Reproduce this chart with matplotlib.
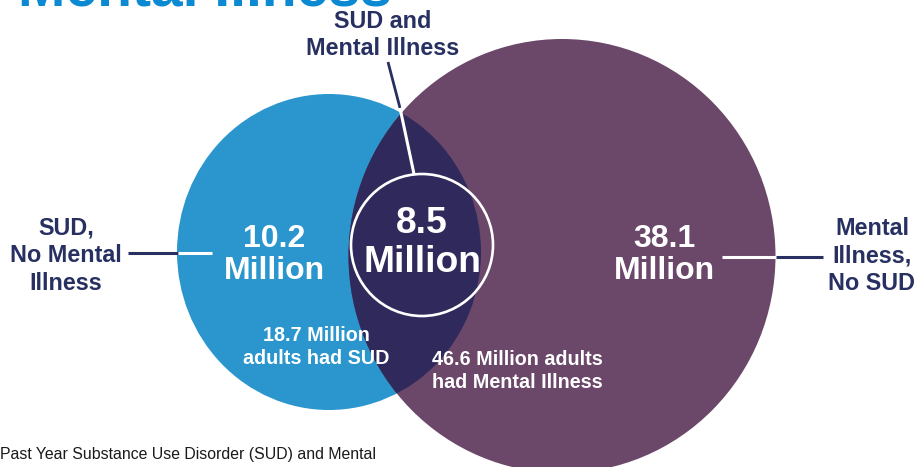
import matplotlib
matplotlib.use("Agg")
import matplotlib.pyplot as plt
from matplotlib.patches import Ellipse, Circle

# ---- data ----
segment_values = [10.2, 8.5, 38.1]          # SUD only, both, mental illness only (millions)
segment_names = ["SUD,\nNo Mental\nIllness", "SUD and\nMental Illness", "Mental\nIllness,\nNo SUD"]
total_values = [18.7, 46.6]
total_labels = ["adults had SUD", "adults had Mental Illness"]
title_text = "Mental Illness"
footer_text = "Past Year Substance Use Disorder (SUD) and Mental"

# ---- colours ----
BLUE = "#2b96cd"
PURPLE = "#6b4769"
DARK = "#30295c"
NAVY = "#273061"
TITLE_BLUE = "#0b8ad3"
FONT = "Liberation Sans"

fig = plt.figure(figsize=(9.2, 4.67), dpi=100)
ax = fig.add_axes([0, 0, 1, 1])
ax.set_xlim(0, 920)
ax.set_ylim(467, 0)
ax.axis("off")

blue = Ellipse((329, 252), 304, 316, facecolor=BLUE, edgecolor="none", zorder=1)
purple = Ellipse((562, 256), 427, 434, facecolor=PURPLE, edgecolor="none", zorder=2)
ax.add_patch(blue)
ax.add_patch(purple)
inter = Ellipse((562, 256), 427, 434, facecolor=DARK, edgecolor="none", zorder=3)
ax.add_patch(inter)
inter.set_clip_path(blue)

# inner circle
ax.add_patch(Circle((422, 245), 71, facecolor="none", edgecolor="white", lw=1.9, zorder=5))

# leader lines
ax.plot([388, 400], [62, 108], color=NAVY, lw=2.0, zorder=4, solid_capstyle="butt")
ax.plot([400, 414], [108, 174], color="white", lw=2.2, zorder=4, solid_capstyle="butt")
ax.plot([128, 178], [253, 253], color=NAVY, lw=2.2, zorder=4, solid_capstyle="butt")
ax.plot([178, 212], [253, 253], color="white", lw=2.2, zorder=4, solid_capstyle="butt")
ax.plot([722, 776], [257, 257], color="white", lw=2.2, zorder=4, solid_capstyle="butt")
ax.plot([776, 823], [257, 257], color=NAVY, lw=2.2, zorder=4, solid_capstyle="butt")

# title (cut off at top, as in the source) and footer
ax.text(18, 5, title_text, color=TITLE_BLUE, fontsize=41, fontweight="bold",
        family=FONT, ha="left", va="baseline", zorder=6)
ax.text(0, 454, footer_text, color="#1a1a1a", fontsize=11.4, family=FONT,
        ha="left", va="center", zorder=6)

# category names
ax.text(66, 256, segment_names[0], color=NAVY, fontsize=16.8, fontweight="bold", family=FONT,
        ha="center", va="center", linespacing=1.26, zorder=6)
ax.text(383, 35, segment_names[1], color=NAVY, fontsize=16.8, fontweight="bold", family=FONT,
        ha="center", va="center", linespacing=1.26, zorder=6)
ax.text(872, 256, segment_names[2], color=NAVY, fontsize=16.8, fontweight="bold", family=FONT,
        ha="center", va="center", linespacing=1.26, zorder=6)

# segment values
ax.text(274, 255, f"{segment_values[0]}\nMillion", color="white", fontsize=23, fontweight="bold",
        family=FONT, ha="center", va="center", linespacing=1.1, zorder=6)
ax.text(422, 243, f"{segment_values[1]}\nMillion", color="white", fontsize=26.8, fontweight="bold",
        family=FONT, ha="center", va="center", linespacing=1.12, zorder=6)
ax.text(664, 255, f"{segment_values[2]}\nMillion", color="white", fontsize=23, fontweight="bold",
        family=FONT, ha="center", va="center", linespacing=1.1, zorder=6)

# totals
ax.text(316, 347, f"{total_values[0]} Million\n{total_labels[0]}", color="white", fontsize=14.2,
        fontweight="bold", family=FONT, ha="center", va="center", linespacing=1.25, zorder=6)
ax.text(517, 371, f"{total_values[1]} Million adults\nhad Mental Illness", color="white", fontsize=14.2,
        fontweight="bold", family=FONT, ha="center", va="center", linespacing=1.25, zorder=6)

fig.savefig("out.png", dpi=100)
